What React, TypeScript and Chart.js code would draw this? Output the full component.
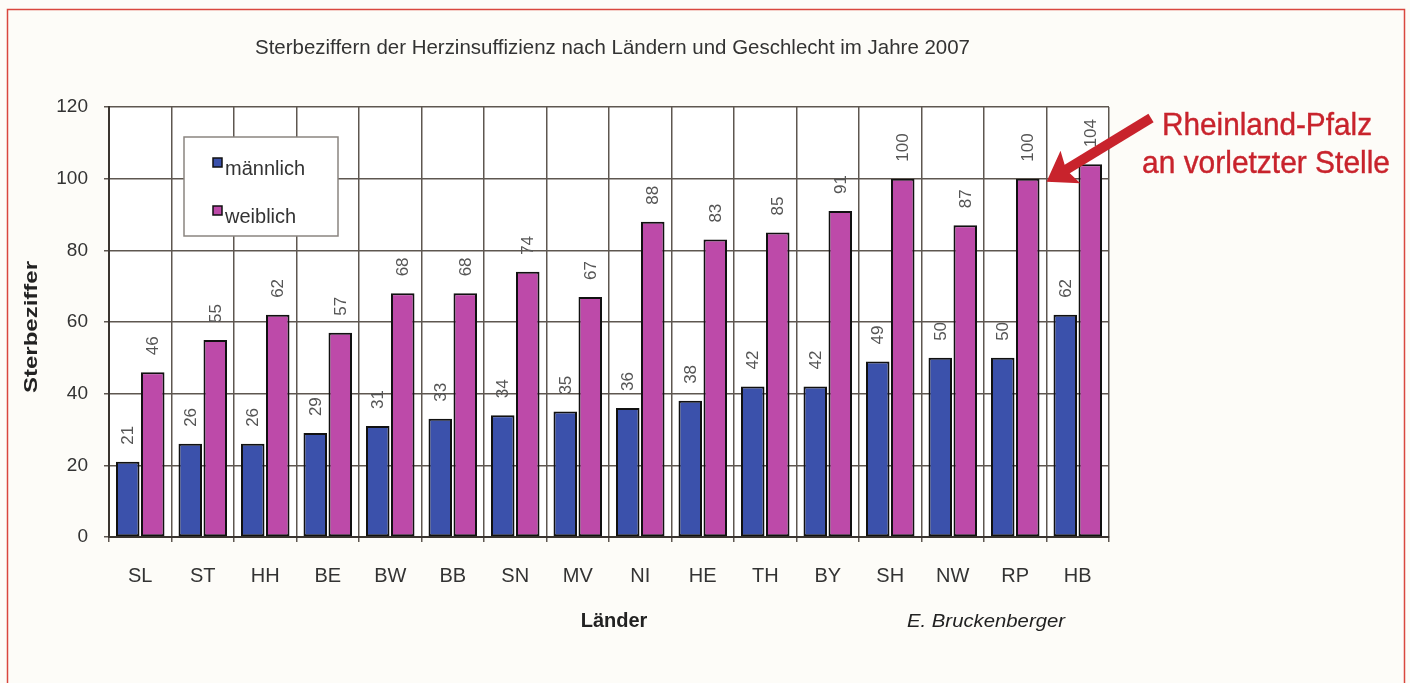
import React, { useEffect, useRef } from 'react';
import { Chart, registerables } from 'chart.js';

Chart.register(...registerables);

const categories = ['SL', 'ST', 'HH', 'BE', 'BW', 'BB', 'SN', 'MV', 'NI', 'HE', 'TH', 'BY', 'SH', 'NW', 'RP', 'HB'];
const maleValues = [21, 26, 26, 29, 31, 33, 34, 35, 36, 38, 42, 42, 49, 50, 50, 62];
const femaleValues = [46, 55, 62, 57, 68, 68, 74, 67, 88, 83, 85, 91, 100, 87, 100, 104];
const seriesNames = ['männlich', 'weiblich'];
const yMin = 0;
const yMax = 120;
const yStep = 20;
const titleText = 'Sterbeziffern der Herzinsuffizienz nach Ländern und Geschlecht im Jahre 2007';
const yTitleText = 'Sterbeziffer';
const xTitleText = 'Länder';
const authorText = 'E. Bruckenberger';
const noteLines = ['Rheinland-Pfalz', 'an vorletzter Stelle'];
const highlightCategory = 'RP';

const MALE_COLOR = '#3b51ab';
const FEMALE_COLOR = '#bd4aa9';
const GRID_COLOR = '#5e5750';
const TEXT_COLOR = '#333333';
const NOTE_COLOR = '#c8232c';

function fitText(ctx: CanvasRenderingContext2D, text: string, x: number, y: number, width: number, strokeW = 0) {
  const w = ctx.measureText(text).width;
  ctx.save();
  ctx.translate(x, y);
  ctx.scale(width / w, 1);
  ctx.textAlign = 'left';
  ctx.fillText(text, 0, 0);
  if (strokeW > 0) {
    ctx.strokeStyle = ctx.fillStyle as string;
    ctx.lineWidth = strokeW;
    ctx.strokeText(text, 0, 0);
  }
  ctx.restore();
}

const decorPlugin = {
  id: 'decor',
  beforeDraw(chart: any) {
    const ctx = chart.ctx as CanvasRenderingContext2D;
    ctx.save();
    ctx.fillStyle = '#fdfcf8';
    ctx.fillRect(0, 0, chart.width, chart.height);
    ctx.strokeStyle = '#d9473e';
    ctx.lineWidth = 1.5;
    ctx.strokeRect(7.5, 9.5, 1397, 720);
    const a = chart.chartArea;
    ctx.fillStyle = '#ffffff';
    ctx.fillRect(a.left, a.top, a.right - a.left, a.bottom - a.top);
    ctx.restore();
  },
  afterDatasetsDraw(chart: any) {
    const ctx = chart.ctx as CanvasRenderingContext2D;
    // value labels, rotated
    ctx.save();
    ctx.font = '17px Arial, "Liberation Sans", sans-serif';
    ctx.fillStyle = '#555555';
    ctx.textAlign = 'left';
    ctx.textBaseline = 'middle';
    chart.data.datasets.forEach((ds: any, di: number) => {
      const meta = chart.getDatasetMeta(di);
      meta.data.forEach((bar: any, i: number) => {
        const v = ds.data[i];
        ctx.save();
        ctx.translate(bar.x + 1, bar.y - 17);
        ctx.rotate(-Math.PI / 2);
        ctx.fillText(String(v), 0, 0);
        ctx.restore();
      });
    });
    ctx.restore();

    // legend box
    ctx.save();
    const lx = 184, ly = 137, lw = 154, lh = 99;
    ctx.fillStyle = '#ffffff';
    ctx.fillRect(lx, ly, lw, lh);
    ctx.strokeStyle = '#8a8580';
    ctx.lineWidth = 1.5;
    ctx.strokeRect(lx, ly, lw, lh);
    const colors = [MALE_COLOR, FEMALE_COLOR];
    ctx.font = '20px Arial, "Liberation Sans", sans-serif';
    ctx.textBaseline = 'alphabetic';
    ctx.textAlign = 'left';
    seriesNames.forEach((name, i) => {
      const sy = 158 + i * 48;
      ctx.fillStyle = colors[i];
      ctx.fillRect(213, sy, 9, 9);
      ctx.strokeStyle = '#111';
      ctx.lineWidth = 1.5;
      ctx.strokeRect(213, sy, 9, 9);
      ctx.fillStyle = TEXT_COLOR;
      ctx.fillText(name, 225, sy + 17);
    });
    ctx.restore();
  },
  afterDraw(chart: any) {
    const ctx = chart.ctx as CanvasRenderingContext2D;
    ctx.save();
    ctx.fillStyle = TEXT_COLOR;
    ctx.textBaseline = 'alphabetic';
    // title
    ctx.font = '21px Arial, "Liberation Sans", sans-serif';
    fitText(ctx, titleText, 255, 54, 715);
    // x title
    ctx.font = 'bold 20px Arial, "Liberation Sans", sans-serif';
    ctx.fillStyle = '#222';
    ctx.textAlign = 'center';
    ctx.fillText(xTitleText, 614, 627);
    // author
    ctx.font = 'italic 19px Arial, "Liberation Sans", sans-serif';
    fitText(ctx, authorText, 907, 627, 158);
    // y title
    ctx.save();
    ctx.translate(37, 393);
    ctx.rotate(-Math.PI / 2);
    ctx.font = 'bold 18px Arial, "Liberation Sans", sans-serif';
    fitText(ctx, yTitleText, 0, 0, 132);
    ctx.restore();

    // note
    ctx.fillStyle = NOTE_COLOR;
    ctx.font = '32px Arial, "Liberation Sans", sans-serif';
    fitText(ctx, noteLines[0], 1162, 135, 210, 0.4);
    fitText(ctx, noteLines[1], 1142, 173, 248, 0.4);

    // arrow to highlighted bar
    const idx = categories.indexOf(highlightCategory);
    const bar: any = chart.getDatasetMeta(1).data[idx];
    const tipX = bar.x + bar.width / 2 + 7;
    const tipY = bar.y + 3;
    const tailX = 1151, tailY = 118;
    const ang = Math.atan2(tipY - tailY, tipX - tailX);
    const c = Math.cos(ang), s = Math.sin(ang);
    const headLen = 28, headHalf = 19, notch = 5;
    const bx = tipX - headLen * c;
    const by = tipY - headLen * s;
    ctx.strokeStyle = NOTE_COLOR;
    ctx.lineWidth = 10;
    ctx.lineCap = 'butt';
    ctx.beginPath();
    ctx.moveTo(tailX, tailY);
    ctx.lineTo(bx + (notch + 4) * c, by + (notch + 4) * s);
    ctx.stroke();
    ctx.fillStyle = NOTE_COLOR;
    ctx.beginPath();
    ctx.moveTo(tipX, tipY);
    ctx.lineTo(bx + headHalf * s, by - headHalf * c);
    ctx.lineTo(bx + notch * c, by + notch * s);
    ctx.lineTo(bx - headHalf * s, by + headHalf * c);
    ctx.closePath();
    ctx.fill();
    ctx.restore();
  },
};

export default function App() {
  const ref = useRef<HTMLCanvasElement | null>(null);
  useEffect(() => {
    document.body.style.margin = '0';
    const canvas = ref.current!;
    const chart = new Chart(canvas, {
      type: 'bar',
      data: {
        labels: categories,
        datasets: [
          {
            label: seriesNames[0],
            data: maleValues,
            backgroundColor: MALE_COLOR,
            borderColor: '#111111',
            borderWidth: 2,
            borderSkipped: false,
            categoryPercentage: 0.8,
            barPercentage: 0.94,
          },
          {
            label: seriesNames[1],
            data: femaleValues,
            backgroundColor: FEMALE_COLOR,
            borderColor: '#111111',
            borderWidth: 2,
            borderSkipped: false,
            categoryPercentage: 0.8,
            barPercentage: 0.94,
          },
        ],
      },
      options: {
        responsive: false,
        animation: false,
        devicePixelRatio: 1,
        layout: { padding: { top: 107, right: 301, left: 0, bottom: 0 } },
        plugins: {
          legend: { display: false },
          title: { display: false },
          tooltip: { enabled: false },
        },
        scales: {
          x: {
            grid: { color: GRID_COLOR, lineWidth: 1.5, tickLength: 5, offset: true },
            border: { color: '#3a3530', width: 2 },
            ticks: {
              color: TEXT_COLOR,
              padding: 22,
              font: { family: 'Arial, "Liberation Sans", sans-serif', size: 20 },
            },
            afterFit: (s: any) => { s.height = 146; },
          },
          y: {
            min: yMin,
            max: yMax,
            grid: { color: GRID_COLOR, lineWidth: 1.5, tickLength: 5 },
            border: { color: '#3a3530', width: 2 },
            ticks: {
              stepSize: yStep,
              color: TEXT_COLOR,
              padding: 16,
              font: { family: 'Arial, "Liberation Sans", sans-serif', size: 19 },
            },
            afterFit: (s: any) => { s.width = 109; },
          },
        },
      },
      plugins: [decorPlugin],
    });
    return () => chart.destroy();
  }, []);
  return (
    <div style={{ width: 1410, height: 683 }}>
      <canvas ref={ref} width={1410} height={683} />
    </div>
  );
}
